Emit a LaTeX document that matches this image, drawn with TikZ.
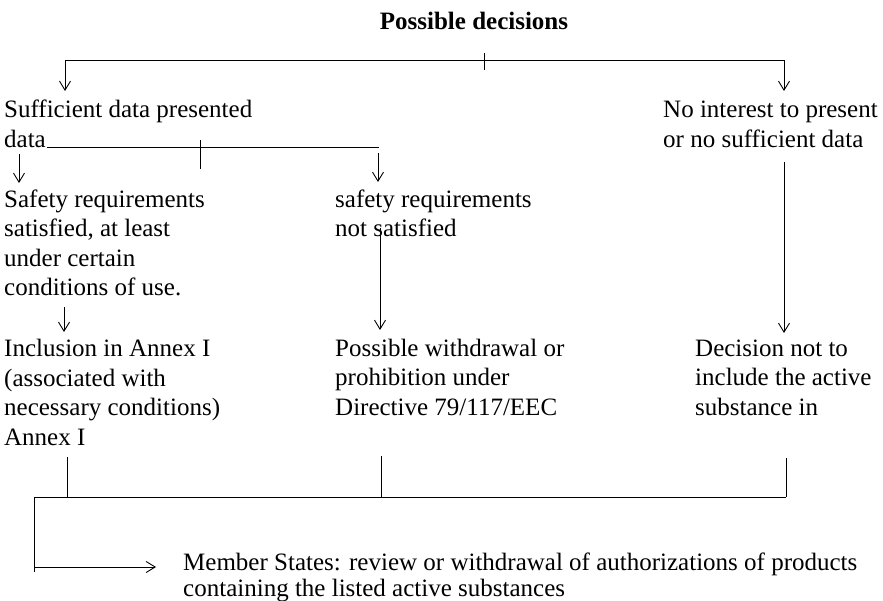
\documentclass[tikz,border=0pt]{standalone}
\usepackage{fontspec}
\setmainfont{Liberation Serif}
\usetikzlibrary{arrows.meta}

\tikzset{
  txt/.style={anchor=base west,inner sep=0pt,align=left,font=\fontsize{25}{29.5}\selectfont},
  ln/.style={line width=0.9pt},
  arr/.style={line width=0.9pt,-{Straight Barb[length=9pt,width=11pt]}}
}

\begin{document}
\begin{tikzpicture}[x=1pt,y=-1pt]
    \useasboundingbox (0,0) rectangle (883,601);
    % texts (placed at the baseline of their last line)
    \node[txt,anchor=base,font=\fontsize{25}{29.5}\selectfont\bfseries](title) at (474,30) {Possible decisions};
    \node[txt](suff) at (4,147.5) {Sufficient data presented\\data};
    \node[txt](nodata) at (663,147.5) {No interest to present\\or no sufficient data};
    \node[txt](satisf) at (4,296) {Safety requirements\\satisfied, at least\\under certain\\conditions of use.};
    \node[txt](notsat) at (335,237) {safety requirements\\not satisfied};
    \node[txt](incl) at (4,445) {Inclusion in Annex I\\(associated with\\necessary conditions)\\Annex I};
    \node[txt](withdr) at (335,415) {Possible withdrawal or\\prohibition under\\Directive 79/117/EEC};
    \node[txt](noincl) at (695,415) {Decision not to\\include the active\\substance in};
    \node[txt,font=\fontsize{25}{26}\selectfont](member) at (183,596) {Member States: review or withdrawal of authorizations of products\\containing the listed active substances};
    % junction points
    \coordinate (tl) at (65,60);
    \coordinate (tr) at (784,60);
    \coordinate (tm) at (484,60);
    \coordinate (sl) at (47,147);
    \coordinate (sr) at (379,147);
    \coordinate (sm) at (200,147);
    \coordinate (bl) at (34,497);
    \coordinate (br) at (786,497);
    % first split
    \draw[ln] (tl) -- (tr);
    \draw[ln] ([yshift=-10pt]tm) -- ([yshift=7pt]tm);
    \draw[arr] (tl) -- (65,91);
    \draw[arr] (tr) -- (784,91);
    % second split
    \draw[ln] (sl) -- (sr);
    \draw[ln] ([yshift=-22pt]sm) -- ([yshift=7pt]sm);
    \draw[arr] (19,154) -- (19,183);
    \draw[arr] (378,153) -- (378,182);
    % to the decisions
    \draw[arr] (64,307) -- (64,332);
    \draw[arr] (380,228) -- (380,330);
    \draw[arr] (784,162) -- (784,333);
    % joining line
    \draw[ln] (67,457) -- (67,497);
    \draw[ln] (381,456) -- (381,497);
    \draw[ln] (786,458) -- (br);
    \draw[ln] (bl) -- (br);
    \draw[ln] (bl) -- (34,572);
    \draw[arr] (34,567) -- (156,567);
\end{tikzpicture}
\end{document}
